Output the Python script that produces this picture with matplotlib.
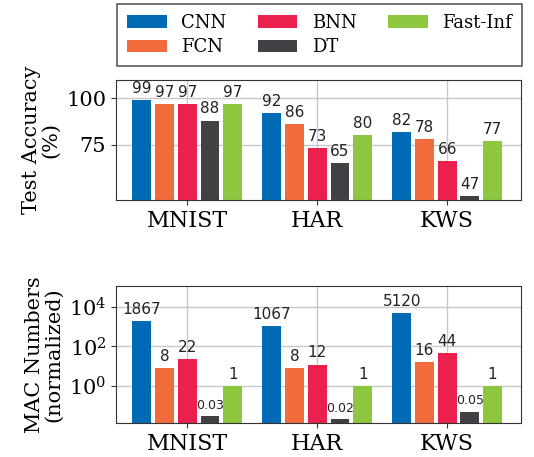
import numpy as np
import matplotlib
matplotlib.use("Agg")
from matplotlib import pyplot as plt
from matplotlib.ticker import NullLocator

datasets = ["MNIST", "HAR", "KWS"]
methods = ["CNN", "FCN", "BNN", "DT", "Fast-Inf"]
colors = ["#006ab4", "#f26b3a", "#ec204c", "#414145", "#8dc63f"]

accuracy = {
    "CNN": [99, 92, 82],
    "FCN": [97, 86, 78],
    "BNN": [97, 73, 66],
    "DT": [88, 65, 47],
    "Fast-Inf": [97, 80, 77],
}
mac = {
    "CNN": [1867, 1067, 5120],
    "FCN": [8, 8, 16],
    "BNN": [22, 12, 44],
    "DT": [0.03, 0.02, 0.05],
    "Fast-Inf": [1, 1, 1],
}
mac_labels = {
    "CNN": ["1867", "1067", "5120"],
    "FCN": ["8", "8", "16"],
    "BNN": ["22", "12", "44"],
    "DT": ["0.03", "0.02", "0.05"],
    "Fast-Inf": ["1", "1", "1"],
}

plt.rcParams["font.family"] = "DejaVu Serif"

fig = plt.figure(figsize=(5.34, 4.57), dpi=100)
ax1 = fig.add_axes([0.217, 0.562, 0.759, 0.263])
ax2 = fig.add_axes([0.217, 0.074, 0.759, 0.301])

x = np.arange(len(datasets))
step = 0.175
width = 0.145

def style(ax):
    ax.set_axisbelow(True)
    ax.grid(True, color="#c8c8c8", linewidth=1)
    for s in ax.spines.values():
        s.set_color("#333333")
    ax.set_xticks(x)
    ax.set_xticklabels(datasets, fontsize=16)
    ax.tick_params(axis="y", labelsize=15, color="#333333")
    ax.tick_params(axis="x", color="#333333")
    ax.set_xlim(-0.55, 2.57)

handles = []
for i, m in enumerate(methods):
    pos = x + (i - 2) * step
    b = ax1.bar(pos, accuracy[m], width, color=colors[i], label=m)
    handles.append(b)
    for p, v in zip(pos, accuracy[m]):
        ax1.annotate(str(v), (p, v), xytext=(0, 3), textcoords="offset points",
                     ha="center", va="bottom", fontsize=11, family="DejaVu Sans",
                     color="#222222")
    ax2.bar(pos, mac[m], width, color=colors[i])
    for p, v, t in zip(pos, mac[m], mac_labels[m]):
        fs = 9 if m == "DT" else 11
        ax2.annotate(t, (p, v), xytext=(0, 3), textcoords="offset points",
                     ha="center", va="bottom", fontsize=fs, family="DejaVu Sans",
                     color="#222222")

style(ax1)
ax1.set_ylim(45, 110)
ax1.set_yticks([75, 100])
ax1.set_ylabel("Test Accuracy\n(%)", fontsize=15, linespacing=1.0)

style(ax2)
ax2.set_yscale("log")
ax2.set_ylim(0.013, 1.2e5)
ax2.set_yticks([1, 1e2, 1e4])
ax2.yaxis.set_minor_locator(NullLocator())
ax2.set_ylabel("MAC Numbers\n(normalized)", fontsize=15, linespacing=1.0)

leg = fig.legend(handles=handles, loc="upper left", ncol=3, mode="expand",
                 bbox_to_anchor=(0.219, 0.860, 0.758, 0.131),
                 fontsize=13, fancybox=False, edgecolor="#333333",
                 handlelength=2.2, handletextpad=0.8, borderaxespad=0,
                 borderpad=0.55, labelspacing=0.35, columnspacing=0.8)
leg.get_frame().set_linewidth(1.2)

fig.savefig("out.png", dpi=100)
